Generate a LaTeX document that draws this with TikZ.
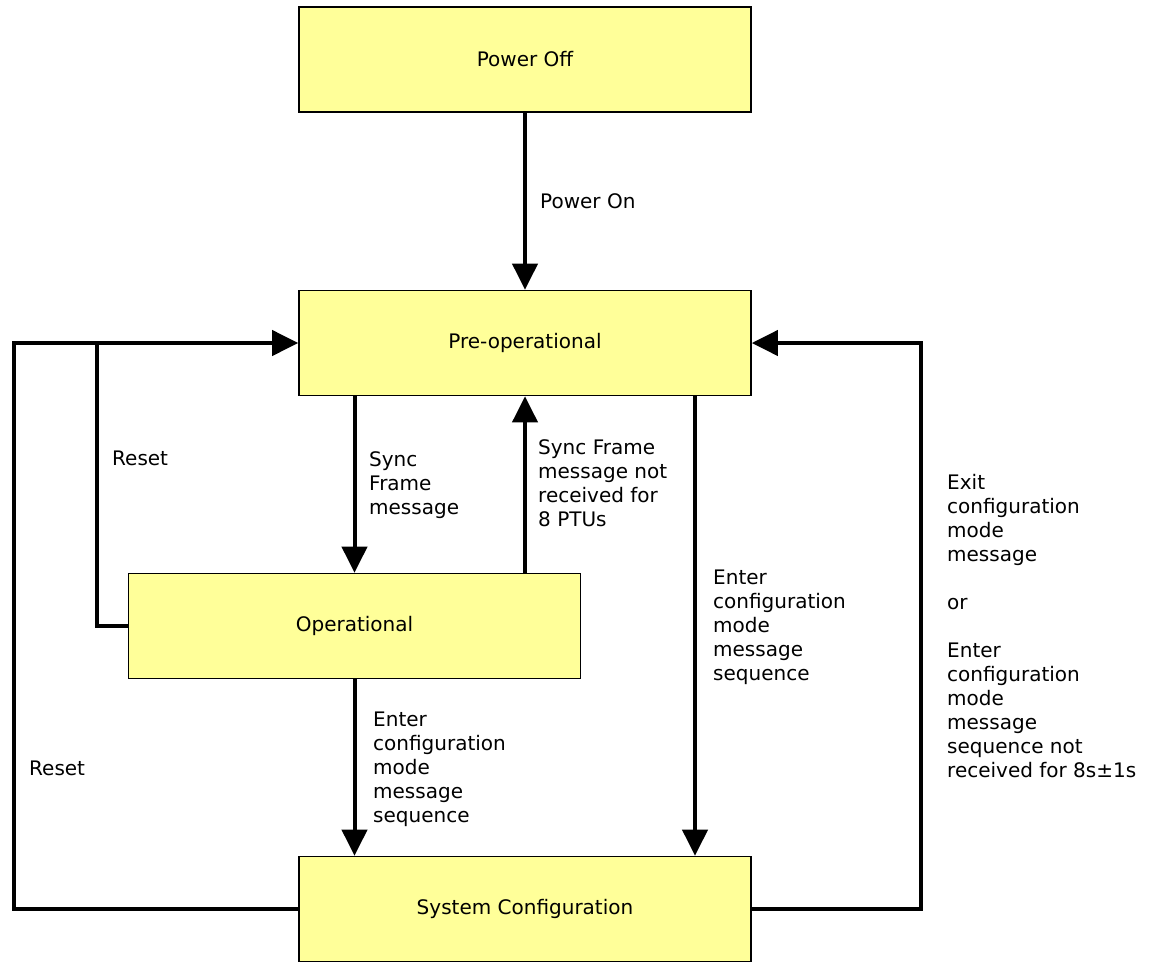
\documentclass[tikz,border=0pt]{standalone}
\usepackage{fontspec}
\setmainfont{DejaVu Sans}
\usetikzlibrary{arrows.meta}
\definecolor{boxfill}{RGB}{255,255,153}
\tikzset{
  state/.style={draw=black, line width=1.6pt, fill=boxfill, minimum width=452pt, minimum height=105pt, inner sep=0pt, font=\fontsize{20}{24}\selectfont},
  conn/.style={line width=4pt, line join=miter},
  arr/.style={conn, -{Triangle[length=26pt,width=25pt]}},
  lbl/.style={anchor=north west, align=left, inner sep=0pt, font=\fontsize{20}{24}\selectfont}
}
\begin{document}
\begin{tikzpicture}[x=1pt,y=-1pt]
\useasboundingbox (0,0) rectangle (1155,962);
\node[state] (off) at (525,59.5) {Power Off};
\node[state] (pre) at (525,343) {Pre-operational};
\node[state] (op) at (354.5,626) {Operational};
\node[state] (sys) at (525,909) {System Configuration};

\coordinate (lft) at (14,343);
\coordinate (j) at (97,343);
\coordinate (rt) at (921,343);

% Power On
\draw[arr] (off.south) -- (pre.north);
\node[lbl] (lpon) at (540,193) {Power On};

% Sync Frame
\draw[arr] (pre.south -| op.north) -- (op.north);
\node[lbl] (lsync) at (369,451) {Sync\\Frame\\message};

% Sync not received
\draw[arr] (op.north -| pre.south) -- (pre.south);
\node[lbl] (lnot) at (538,439) {Sync Frame\\message not\\received for\\8 PTUs};

% Reset inner
\draw[conn] (op.west) -| (j);
\node[lbl] (lres1) at (112,451) {Reset};

% Reset outer
\draw[arr] (sys.west) -| (lft) -- (pre.west);
\node[lbl] (lres2) at (29,761) {Reset};

% Operational -> System Configuration
\draw[arr] (op.south) -- (sys.north -| op.south);
\node[lbl] (lenter1) at (373,712) {Enter\\configuration\\mode\\message\\sequence};

% Pre-operational -> System Configuration
\draw[arr] ([xshift=170pt]pre.south) -- ([xshift=170pt]sys.north);
\node[lbl] (lenter2) at (713,570) {Enter\\configuration\\mode\\message\\sequence};

% System Configuration -> Pre-operational
\draw[arr] (sys.east) -| (rt) -- (pre.east);
\node[lbl] (lexit) at (947,474) {Exit\\configuration\\mode\\message\\[24pt]or\\[24pt]Enter\\configuration\\mode\\message\\sequence not\\received for 8s±1s};
\end{tikzpicture}
\end{document}
